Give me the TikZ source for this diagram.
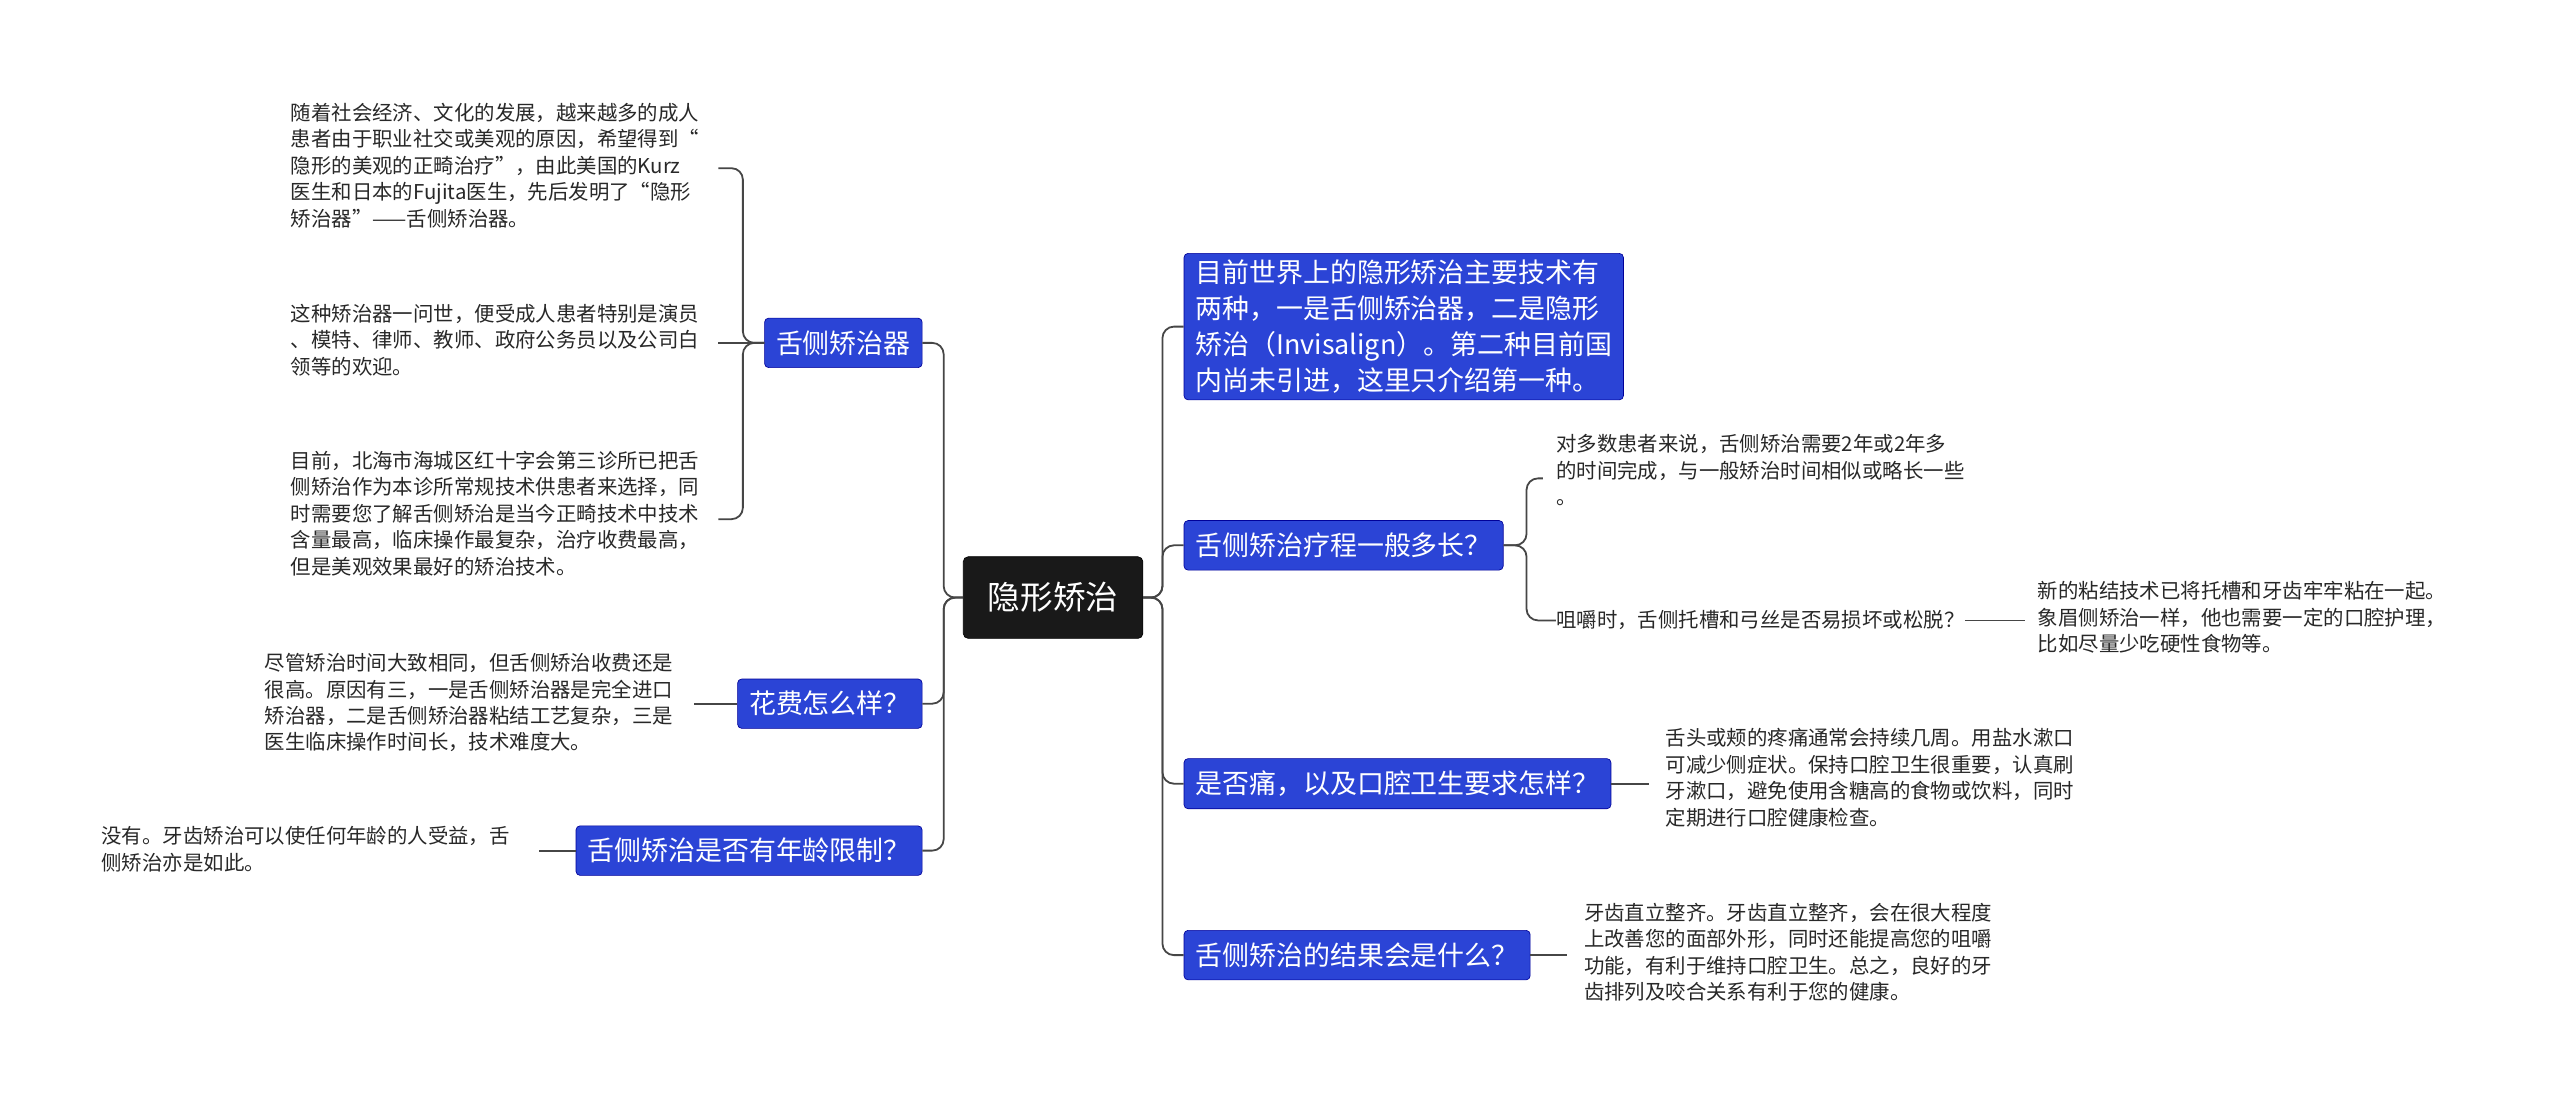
\documentclass[tikz,border=0pt]{standalone}
\usepackage{fontspec}
\setmainfont{Noto Sans CJK SC}
\begin{document}
\begin{tikzpicture}[x=1pt,y=-1pt,
 blue/.style={draw=blue!60!black,fill={rgb,255:red,43;green,68;blue,214},text=white,rounded corners=2.5,font=\fontsize{16.5}{22}\selectfont,inner xsep=7pt,inner ysep=7.5pt,align=left},
 leaf/.style={inner sep=0,anchor=north west,align=left,font=\fontsize{12.5}{16.2}\selectfont,text={rgb,255:red,40;green,40;blue,40}},
 conn/.style={draw={rgb,255:red,70;green,70;blue,70},line width=1.1pt,rounded corners=7}]
\useasboundingbox[fill=white] (0,0) rectangle (1568,681);
\node[fill=black!90,draw=black,rounded corners=3,text=white,font=\fontsize{20}{24}\selectfont,minimum width=110,minimum height=50] (root) at (645,366) {隐形矫治};
% right
\node[blue,anchor=north west,inner ysep=4pt] (r1) at (725,155) {目前世界上的隐形矫治主要技术有\\两种，一是舌侧矫治器，二是隐形\\矫治（Invisalign）。第二种目前国\\内尚未引进，这里只介绍第一种。};
\node[blue,anchor=west] (r2) at (725,334) {舌侧矫治疗程一般多长？};
\node[blue,anchor=west] (r3) at (725,480) {是否痛，以及口腔卫生要求怎样？};
\node[blue,anchor=west] (r4) at (725,585) {舌侧矫治的结果会是什么？};
\foreach \n in {r1,r2,r3,r4}{\draw[conn] (root.east) -- (712,366) |- (\n.west);}
\node[leaf] (r2a) at (953,266) {对多数患者来说，舌侧矫治需要2年或2年多\\的时间完成，与一般矫治时间相似或略长一些\\。};
\node[leaf,anchor=west] (r2b) at (953,380) {咀嚼时，舌侧托槽和弓丝是否易损坏或松脱？};
\node[leaf] (r2b1) at (1248,356) {新的粘结技术已将托槽和牙齿牢牢粘在一起。\\象眉侧矫治一样，他也需要一定的口腔护理，\\比如尽量少吃硬性食物等。};
\node[leaf] (r3a) at (1020,446) {舌头或颊的疼痛通常会持续几周。用盐水漱口\\可减少侧症状。保持口腔卫生很重要，认真刷\\牙漱口，避免使用含糖高的食物或饮料，同时\\定期进行口腔健康检查。};
\node[leaf] (r4a) at (970,553) {牙齿直立整齐。牙齿直立整齐，会在很大程度\\上改善您的面部外形，同时还能提高您的咀嚼\\功能，有利于维持口腔卫生。总之，良好的牙\\齿排列及咬合关系有利于您的健康。};
\coordinate (e2a) at (945,293);
\draw[conn] (r2.east) -- (935,334) |- (e2a);
\draw[conn] (r2.east) -- (935,334) |- (r2b.west);
\draw[conn] (r2b.east) -- (1240,380);
\draw[conn] (r3.east) -- (1010,480);
\draw[conn] (r4.east) -- (960,585);
% left
\node[blue,anchor=east] (l1) at (565,210) {舌侧矫治器};
\node[blue,anchor=east] (l2) at (565,431) {花费怎么样？};
\node[blue,anchor=east] (l3) at (565,521) {舌侧矫治是否有年龄限制？};
\foreach \n in {l1,l2,l3}{\draw[conn] (root.west) -- (578,366) |- (\n.east);}
\node[leaf] (t1) at (178,63) {随着社会经济、文化的发展，越来越多的成人\\患者由于职业社交或美观的原因，希望得到“\\隐形的美观的正畸治疗”，由此美国的Kurz\\医生和日本的Fujita医生，先后发明了“隐形\\矫治器”——舌侧矫治器。};
\node[leaf] (t2) at (178,186) {这种矫治器一问世，便受成人患者特别是演员\\、模特、律师、教师、政府公务员以及公司白\\领等的欢迎。};
\node[leaf] (t3) at (178,276) {目前，北海市海城区红十字会第三诊所已把舌\\侧矫治作为本诊所常规技术供患者来选择，同\\时需要您了解舌侧矫治是当今正畸技术中技术\\含量最高，临床操作最复杂，治疗收费最高，\\但是美观效果最好的矫治技术。};
\node[leaf] (t4) at (162,400) {尽管矫治时间大致相同，但舌侧矫治收费还是\\很高。原因有三，一是舌侧矫治器是完全进口\\矫治器，二是舌侧矫治器粘结工艺复杂，三是\\医生临床操作时间长，技术难度大。};
\node[leaf] (t5) at (62,506) {没有。牙齿矫治可以使任何年龄的人受益，舌\\侧矫治亦是如此。};
\coordinate (e1) at (440,103); \coordinate (e2) at (440,210); \coordinate (e3) at (440,318);
\draw[conn] (l1.west) -- (455,210) |- (e1);
\draw[conn] (l1.west) -- (e2);
\draw[conn] (l1.west) -- (455,210) |- (e3);
\draw[conn] (l2.west) -- (425,431);
\draw[conn] (l3.west) -- (330,521);
\end{tikzpicture}
\end{document}
